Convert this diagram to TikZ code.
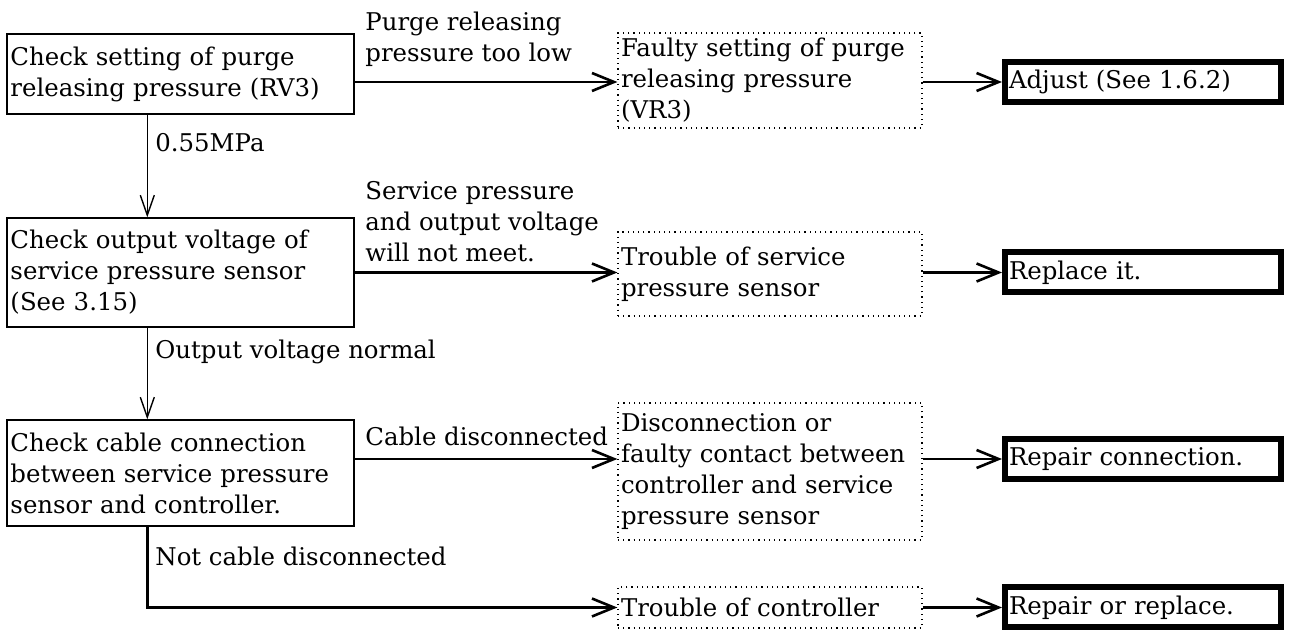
\documentclass[tikz,border=0pt]{standalone}
\usepackage{fontspec}
\setmainfont{DejaVu Serif}
\usetikzlibrary{arrows.meta,positioning,calc}

\begin{document}
\begin{tikzpicture}[x=0.5pt,y=-0.5pt,
  every node/.style={font=\fontsize{12.2}{15.5}\selectfont,align=left},
  check/.style={draw,line width=0.7pt,minimum width=173.5pt,text width=170pt,
    inner xsep=1.5pt,inner ysep=0pt},
  cause/.style={draw,dotted,line width=0.6pt,minimum width=152pt,text width=149pt,
    inner xsep=1.5pt,inner ysep=0pt},
  remedy/.style={draw,line width=3pt,minimum width=138pt,text width=134pt,
    minimum height=20pt,inner xsep=2pt,inner ysep=0pt},
  cond/.style={inner sep=0pt},
  down/.style={-{Straight Barb[length=10pt,width=7pt]},line width=0.7pt},
  flow/.style={-{Straight Barb[length=11pt,width=9pt]},line width=1.3pt}]
  \useasboundingbox (0,0) rectangle (1292,635);
  % checks
  \node[check,minimum height=40pt] (setting) at (180.5,74)
    {Check setting of purge\\releasing pressure (RV3)};
  \node[check,minimum height=54.5pt] (voltage) at (180.5,272.5)
    {Check output voltage of\\service pressure sensor\\(See 3.15)};
  \node[check,minimum height=53pt] (cable) at (180.5,473)
    {Check cable connection\\between service pressure\\sensor and controller.};
  % causes
  \node[cause,minimum height=47.5pt] (faulty) at (770,80.5)
    {Faulty setting of purge\\releasing pressure\\(VR3)};
  \node[cause,minimum height=42pt] (sensor) at (770,274)
    {Trouble of service\\pressure sensor};
  \node[cause,minimum height=68.5pt] (contact) at (770,471.5)
    {Disconnection or\\faulty contact between\\controller and service\\pressure sensor};
  \node[cause,minimum height=20.5pt] (ctrl) at (770,607.5)
    {Trouble of controller};
  % remedies
  \node[remedy] (adjust) at (1143,82) {Adjust (See 1.6.2)};
  \node[remedy] (replace) at (1143,272.5) {Replace it.};
  \node[remedy] (repair) at (1143,459) {Repair connection.};
  \node[remedy] (repl2) at (1143,607.5) {Repair or replace.};
  % conditions
  \node[cond,anchor=south west] (low) at (365,67) {Purge releasing\\pressure too low};
  \node[cond,anchor=west] (mpa) at (155,143) {0.55MPa};
  \node[cond,anchor=south west] (meet) at (365,262)
    {Service pressure\\and output voltage\\will not meet.};
  \node[cond,anchor=west] (normal) at (155,352) {Output voltage normal};
  \node[cond,anchor=west] (disc) at (365,436) {Cable disconnected};
  \node[cond,anchor=west] (notdisc) at (155,556) {Not cable disconnected};
  % connectors
  \draw[down] ([xshift=70.5pt]setting.south west) -- ([xshift=70.5pt]voltage.north west);
  \draw[down] ([xshift=70.5pt]voltage.south west) -- ([xshift=70.5pt]cable.north west);
  \draw[flow] (setting.east |- adjust.west) -- (faulty.west |- adjust.west);
  \draw[flow] (faulty.east |- adjust.west) -- (adjust.west);
  \draw[flow] (voltage.east |- replace.west) -- (sensor.west |- replace.west);
  \draw[flow] (sensor.east |- replace.west) -- (replace.west);
  \draw[flow] (cable.east |- repair.west) -- (contact.west |- repair.west);
  \draw[flow] (contact.east |- repair.west) -- (repair.west);
  \draw[flow] ([xshift=70.5pt]cable.south west) |- (ctrl.west);
  \draw[flow] (ctrl.east) -- (ctrl.east -| repl2.west);
\end{tikzpicture}
\end{document}
